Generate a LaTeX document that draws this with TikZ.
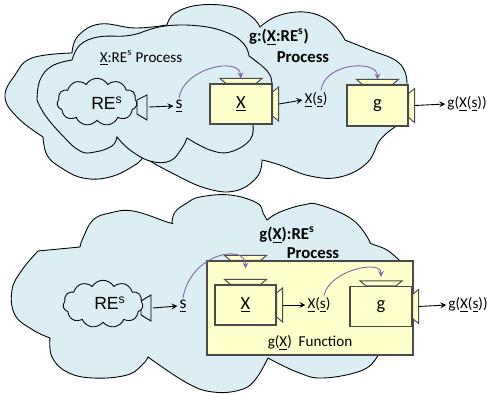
\documentclass[tikz,border=0pt]{standalone}
\usepackage{fontspec}
\setmainfont{Carlito}
\newfontfamily\arialfont{Liberation Sans}
\usetikzlibrary{shapes.symbols,arrows}
\definecolor{skyfill}{HTML}{DAEEF3}
\definecolor{boxfill}{HTML}{FFFFCC}
\definecolor{boxline}{HTML}{4A4A4A}
\definecolor{flowcol}{HTML}{8064A2}
\tikzset{
  cloudline/.style={draw=black,fill=skyfill,line width=0.5pt},
  procbox/.style={draw=boxline,fill=boxfill,line width=0.65pt,inner sep=0pt,font=\fontsize{10.5}{12}\selectfont},
  portline/.style={draw=boxline,fill=boxfill,line width=0.55pt},
  recl/.style={cloud,cloud puffs=11,cloud puff arc=120,aspect=1.6,draw=black,fill=skyfill,line width=0.5pt,minimum width=1.6cm,minimum height=0.95cm,inner sep=0pt},
  retxt/.style={font=\arialfont\fontsize{10}{12}\selectfont,inner sep=0pt},
  lbl/.style={font=\fontsize{8.6}{10}\selectfont,inner sep=1pt},
  blbl/.style={font=\bfseries\fontsize{9.5}{11}\selectfont,inner sep=1pt},
  sml/.style={font=\fontsize{10}{12}\selectfont,inner sep=1pt},
  arr/.style={->,line width=0.5pt},
  flow/.style={->,draw=flowcol,line width=0.5pt}
}
\newcommand\inport[1]{\draw[portline] (#1) ++(-15,0) -- ++(-6,-5) -- ++(42,0) -- ++(-6,5) -- cycle;}
\newcommand\outport[2]{\draw[portline] (#1) ++(0,-12) -- ++(6,-5) -- ++(0,34) -- ++(-6,-5) -- cycle;
  \coordinate (#2) at ([xshift=0.13cm]#1);}
\begin{document}
\begin{tikzpicture}[x=0.02cm,y=-0.02cm,>=stealth]
\useasboundingbox (0,0) rectangle (487,394);

\draw[cloudline] plot[smooth,tension=0.7] coordinates{(43,137) (18,118) (5,97) (15,75) (32,58) (72,53)}
  -- plot[smooth,tension=0.7] coordinates{(72,53) (78,36) (100,24) (135,28) (167,25)}
  -- plot[smooth,tension=0.7] coordinates{(167,25) (175,13) (200,5) (233,7) (252,17) (260,27)}
  -- plot[smooth,tension=0.7] coordinates{(260,27) (275,17) (297,12) (318,15) (335,26) (345,40)}
  -- plot[smooth,tension=0.7] coordinates{(345,40) (370,50) (395,60) (405,72) (407,85)}
  -- plot[smooth,tension=0.7] coordinates{(395,127) (380,140) (367,163) (340,177) (310,176) (280,165) (262,160)}
  -- plot[smooth,tension=0.7] coordinates{(262,160) (257,177) (235,191) (205,188) (170,172) (143,157)}
  -- plot[smooth,tension=0.7] coordinates{(143,157) (135,165) (110,177) (83,178) (60,167) (47,155) (43,137)} -- cycle;
\draw[cloudline] plot[smooth,tension=0.7] coordinates{(37,100) (40,80) (52,66) (72,60)}
  -- plot[smooth,tension=0.7] coordinates{(72,60) (80,45) (98,37) (125,36) (140,33)}
  -- plot[smooth,tension=0.7] coordinates{(140,33) (165,26) (200,26) (228,33) (244,44) (249,56)}
  -- plot[smooth,tension=0.7] coordinates{(249,56) (262,66) (270,75) (272,85)}
  -- plot[smooth,tension=0.7] coordinates{(253,125) (250,140) (230,152) (210,150) (187,138)}
  -- plot[smooth,tension=0.7] coordinates{(187,138) (182,148) (170,161) (150,161) (130,150) (117,137)}
  -- plot[smooth,tension=0.7] coordinates{(117,137) (112,146) (95,152) (80,151) (62,135) (45,115) (37,100)} -- cycle;

\draw[cloudline] (137,100) -- (147,95) -- (147,120) -- (137,114) -- cycle;
\node[recl] (re1) at (97,102) {};
\node[retxt] (retx1) at (107,103) {RE\textsuperscript{s}};
\coordinate (rep1) at (149,107);
\node[sml] (s1) at (179,106) {\underline{s}};
\draw[arr] (rep1) -- (s1.west);

\node[procbox,minimum width=1.24cm,minimum height=0.80cm] (xb1) at (241,104) {\underline{X}};
\inport{xb1.north}
\outport{xb1.east}{xo1}
\coordinate (xin1) at ([yshift=0.1cm]xb1.north);
\node[lbl] (xs1) at (316,100) {\underline{X}(\underline{s})};
\draw[arr] (xo1) -- (xs1.west);

\node[procbox,minimum width=1.22cm,minimum height=0.82cm] (gb1) at (377.5,105.5) {g};
\inport{gb1.north}
\outport{gb1.east}{go1}
\coordinate (gin1) at ([yshift=0.1cm]gb1.north);
\node[lbl] (gx1) at (467,104) {g(\underline{X}(\underline{s}))};
\draw[arr] (go1) -- (gx1.west);

\draw[flow] (s1.north) .. controls +(5,-30) and +(-2,-22) .. (xin1);
\draw[flow] ([xshift=0.1cm]xs1.north) .. controls +(3,-28) and +(0,-20) .. (gin1);

\node[lbl] (xproc) at (141,58) {\underline{X}:RE\textsuperscript{s} Process};
\node[blbl] (gproc1) at (279,37) {g:(\underline{X}:RE\textsuperscript{s})};
\node[blbl] (gproc2) at (303,57) {Process};

\draw[cloudline] plot[smooth,tension=0.7] coordinates{(38,251) (22,270) (12,290) (15,315) (33,330) (50,338)}
  -- plot[smooth,tension=0.7] coordinates{(50,338) (52,357) (67,372) (93,378) (127,375) (143,364) (148,357)}
  -- plot[smooth,tension=0.7] coordinates{(148,357) (187,383) (213,392) (240,390) (255,380) (268,358)}
  -- plot[smooth,tension=0.7] coordinates{(268,358) (297,372) (323,378) (363,370) (378,355)}
  -- plot[smooth,tension=0.7] coordinates{(400,261) (387,250) (372,244) (370,242)}
  -- plot[smooth,tension=0.7] coordinates{(370,242) (353,220) (320,205) (303,205) (280,212) (267,220)}
  -- plot[smooth,tension=0.7] coordinates{(267,220) (263,213) (257,203) (230,195) (200,197) (187,203) (175,212) (172,223)}
  -- plot[smooth,tension=0.7] coordinates{(172,223) (167,222) (133,211) (110,213) (93,220) (83,238) (80,247)}
  -- (38,251) -- cycle;

\draw[cloudline] (141,301) -- (151,295) -- (151,321) -- (141,315) -- cycle;
\node[recl] (re2) at (103,304) {};
\node[retxt] (retx2) at (110,303) {RE\textsuperscript{s}};
\coordinate (rep2) at (153,308);
\node[sml] (s2) at (183,306) {\underline{s}};
\draw[arr] (rep2) -- (s2.west);

\node[procbox,minimum width=4.12cm,minimum height=1.88cm] (fb) at (310,308) {};
\inport{fb.north -| 245.5,0}
\node[lbl] (flab) at (310,343) {g(\underline{X})\ \ Function};

\node[procbox,minimum width=1.22cm,minimum height=0.80cm] (xb2) at (245.5,305) {\underline{X}};
\inport{xb2.north}
\outport{xb2.east}{xo2}
\coordinate (xin2) at ([yshift=0.32cm]xb2.north);
\node[lbl] (xs2) at (319,305) {\underline{X}(\underline{s})};
\draw[arr] (xo2) -- (xs2.west);

\node[procbox,minimum width=1.24cm,minimum height=0.80cm] (gb2) at (381,306.5) {g};
\inport{gb2.north}
\outport{gb2.east}{go2}
\coordinate (gin2) at ([yshift=0.18cm]gb2.north);
\node[lbl] (gx2) at (468,305) {g(\underline{X}(\underline{s}))};
\draw[arr] (go2) -- (gx2.west);

\draw[flow] (s2.north) .. controls +(8,-45) and +(0,-25) .. (xin2);
\draw[flow] ([xshift=0.1cm]xs2.north) .. controls +(5,-25) and +(0,-18) .. (gin2);

\node[blbl] (gfproc1) at (287,235) {g(\underline{X}):RE\textsuperscript{s}};
\node[blbl] (gfproc2) at (313,253) {Process};
\end{tikzpicture}
\end{document}
